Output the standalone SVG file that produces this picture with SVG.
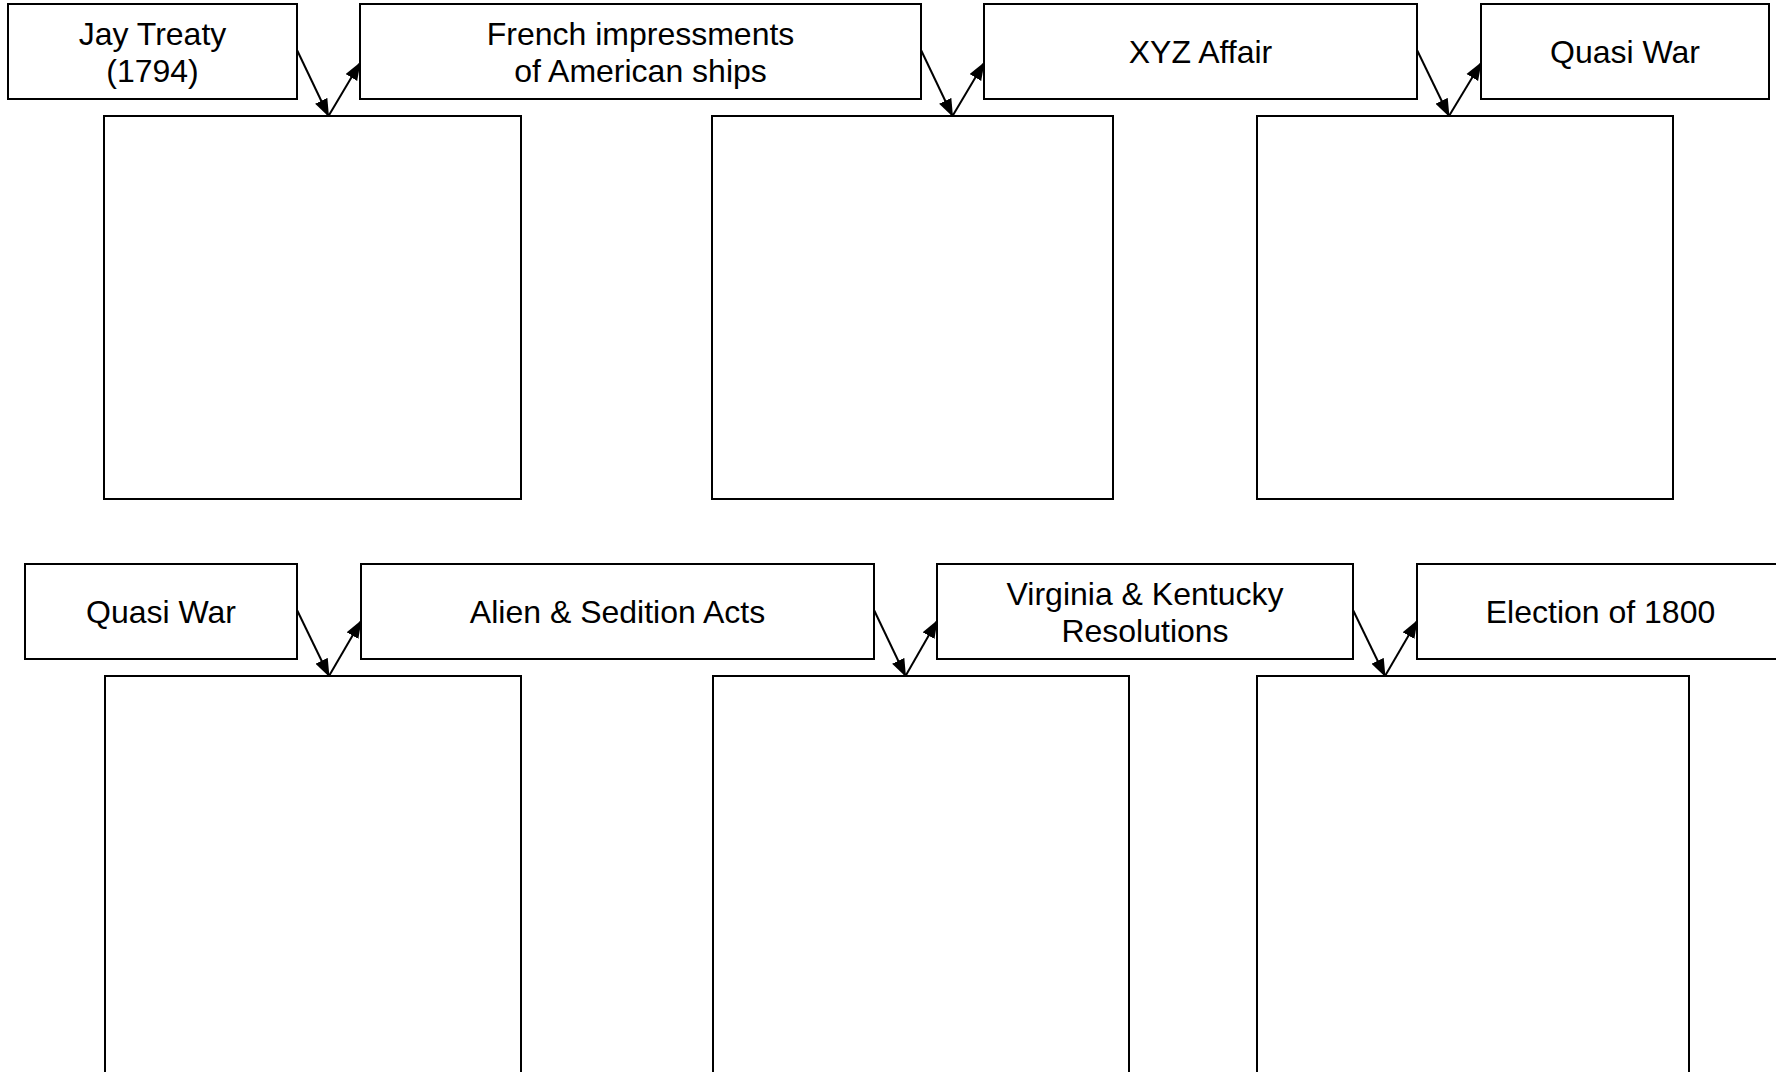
<svg xmlns="http://www.w3.org/2000/svg" width="1776" height="1072" viewBox="0 0 1776 1072">
<defs>
<marker id="ah" viewBox="0 0 16 12" refX="15" refY="6" markerWidth="9" markerHeight="7" markerUnits="strokeWidth" orient="auto">
<path d="M0,0 L16,6 L0,12 z" fill="#000"/>
</marker>
<style>
.box{fill:#fff;stroke:#000;stroke-width:2}
.t{font-family:"Liberation Sans",Arial,sans-serif;font-size:32px;fill:#000;text-anchor:middle}
.c{fill:none;stroke:#000;stroke-width:2;marker-end:url(#ah)}
</style>
</defs>
<rect width="1776" height="1072" fill="#fff"/>
<g id="n-jay"><rect class="box" x="8" y="4" width="289" height="95"/><text class="t" x="152.5" y="45">Jay Treaty</text><text class="t" x="152.5" y="82">(1794)</text></g>
<g id="n-french"><rect class="box" x="360" y="4" width="561" height="95"/><text class="t" x="640.5" y="45">French impressments</text><text class="t" x="640.5" y="82">of American ships</text></g>
<g id="n-xyz"><rect class="box" x="984" y="4" width="433" height="95"/><text class="t" x="1200.5" y="63">XYZ Affair</text></g>
<g id="n-quasi1"><rect class="box" x="1481" y="4" width="288" height="95"/><text class="t" x="1625" y="63">Quasi War</text></g>
<g id="n-box1"><rect class="box" x="104" y="116" width="417" height="383"/></g>
<g id="n-box2"><rect class="box" x="712" y="116" width="401" height="383"/></g>
<g id="n-box3"><rect class="box" x="1257" y="116" width="416" height="383"/></g>
<g id="n-quasi2"><rect class="box" x="25" y="564" width="272" height="95"/><text class="t" x="161" y="623">Quasi War</text></g>
<g id="n-alien"><rect class="box" x="361" y="564" width="513" height="95"/><text class="t" x="617.5" y="623">Alien &amp; Sedition Acts</text></g>
<g id="n-vk"><rect class="box" x="937" y="564" width="416" height="95"/><text class="t" x="1145" y="605">Virginia &amp; Kentucky</text><text class="t" x="1145" y="642">Resolutions</text></g>
<g id="n-election"><rect class="box" x="1417" y="564" width="367" height="95"/><text class="t" x="1600.5" y="623">Election of 1800</text></g>
<g id="n-box4"><rect class="box" x="105" y="676" width="416" height="420"/></g>
<g id="n-box5"><rect class="box" x="713" y="676" width="416" height="420"/></g>
<g id="n-box6"><rect class="box" x="1257" y="676" width="432" height="420"/></g>
<g id="connectors">
<line class="c" x1="297" y1="50" x2="328.5" y2="116"/>
<line class="c" x1="328.5" y1="116" x2="360" y2="63"/>
<line class="c" x1="921" y1="50" x2="952.5" y2="116"/>
<line class="c" x1="952.5" y1="116" x2="984" y2="63"/>
<line class="c" x1="1417" y1="50" x2="1449" y2="116"/>
<line class="c" x1="1449" y1="116" x2="1481" y2="63"/>
<line class="c" x1="297" y1="610" x2="329" y2="676"/>
<line class="c" x1="329" y1="676" x2="361" y2="621"/>
<line class="c" x1="874" y1="610" x2="905.5" y2="676"/>
<line class="c" x1="905.5" y1="676" x2="937" y2="621"/>
<line class="c" x1="1353" y1="610" x2="1385" y2="676"/>
<line class="c" x1="1385" y1="676" x2="1417" y2="621"/>
</g>
</svg>
